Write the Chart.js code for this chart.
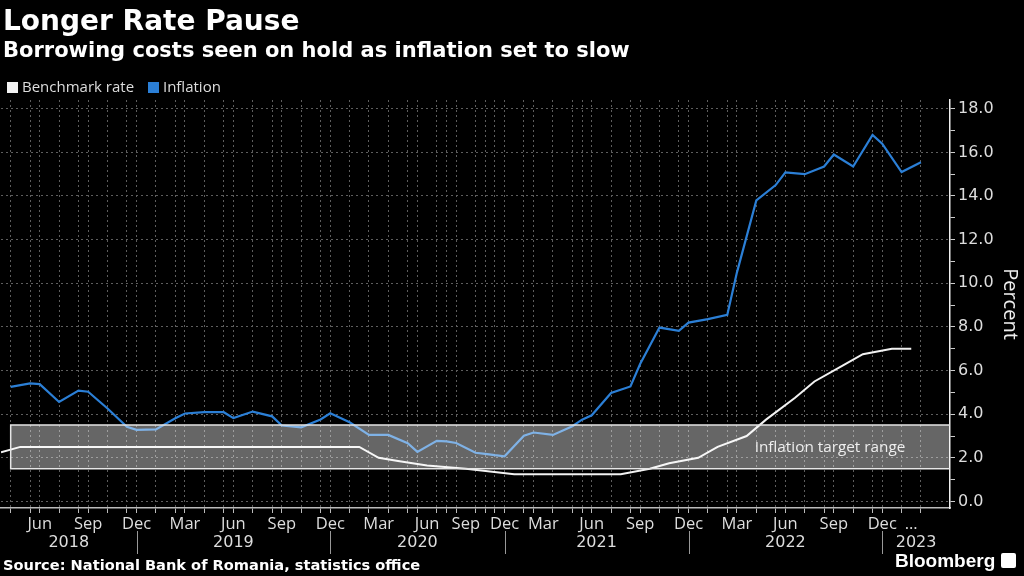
<!DOCTYPE html>
<html>
<head>
<meta charset="utf-8">
<script src="https://cdn.jsdelivr.net/npm/chart.js@4.4.1/dist/chart.umd.min.js"></script>
<style>
  html, body { margin: 0; padding: 0; background: #000; }
  body { width: 1024px; height: 576px; position: relative; overflow: hidden; font-family: "DejaVu Sans", sans-serif; color: #fff; }
  #chartBox { position: absolute; left: 0; top: 0; width: 1024px; height: 576px; }
  #title { position: absolute; left: 3px; top: 5px; font-weight: bold; font-size: 28px; line-height: 32px; }
  #subtitle { position: absolute; left: 3px; top: 38px; font-weight: bold; font-size: 21px; line-height: 24px; }
  #legend { position: absolute; left: 7px; top: 77px; font-family: "Open Sans", sans-serif; font-size: 15px; line-height: 18px; color: #ddd; }
  #legend .key { display: inline-block; width: 11px; height: 11px; margin-right: 4px; vertical-align: -1px; }
  #legend .item { margin-right: 10px; }
  #source { position: absolute; left: 3px; top: 556px; font-weight: bold; font-size: 14.6px; line-height: 18px; }
  #brand { position: absolute; left: 895px; top: 550px; font-family: "Liberation Sans", sans-serif; font-weight: bold; font-size: 19px; line-height: 22px; }
  #brand .logo { display: inline-block; width: 15px; height: 15px; background: #fff; border-radius: 2px; margin-left: 6px; vertical-align: -1px; }
</style>
</head>
<body>
<div id="chartBox"><canvas id="rateChart" width="1024" height="576"></canvas></div>
<div id="title">Longer Rate Pause</div>
<div id="subtitle">Borrowing costs seen on hold as inflation set to slow</div>
<div id="legend">
  <span class="item"><span class="key" style="background:#f2f2f2"></span>Benchmark rate</span>
  <span class="item"><span class="key" style="background:#2b7fd6"></span>Inflation</span>
</div>
<div id="source">Source: National Bank of Romania, statistics office</div>
<div id="brand">Bloomberg<span class="logo"></span></div>

<script>
// Inflation, monthly (dated at month end)
const inflationMonths = [
  "2018-04", "2018-05", "2018-06", "2018-07", "2018-08", "2018-09", "2018-10", "2018-11", "2018-12",
  "2019-01", "2019-02", "2019-03", "2019-04", "2019-05", "2019-06", "2019-07", "2019-08", "2019-09", "2019-10", "2019-11", "2019-12",
  "2020-01", "2020-02", "2020-03", "2020-04", "2020-05", "2020-06", "2020-07", "2020-08", "2020-09", "2020-10", "2020-11", "2020-12",
  "2021-01", "2021-02", "2021-03", "2021-04", "2021-05", "2021-06", "2021-07", "2021-08", "2021-09", "2021-10", "2021-11", "2021-12",
  "2022-01", "2022-02", "2022-03", "2022-04", "2022-05", "2022-06", "2022-07", "2022-08", "2022-09", "2022-10", "2022-11", "2022-12",
  "2023-01", "2023-02"
];
const inflationValues = [
  5.25, 5.41, 5.38, 4.56, 5.08, 5.03, 4.26, 3.42, 3.28,
  3.30, 3.81, 4.03, 4.09, 4.09, 3.82, 4.12, 3.90, 3.48, 3.40, 3.76, 4.04,
  3.63, 3.05, 3.05, 2.67, 2.27, 2.78, 2.75, 2.68, 2.23, 2.18, 2.12, 2.07,
  3.01, 3.16, 3.05, 3.45, 3.75, 3.95, 4.97, 5.27, 6.30, 7.97, 7.82, 8.20,
  8.36, 8.55, 10.5, 13.8, 14.5, 15.08, 15.0, 15.35, 15.9, 15.35, 16.8, 16.4,
  15.1, 15.55
];

// Benchmark rate, at policy meeting dates
const rateDates = [
  "2018-04-04", "2018-05-07", "2018-07-04", "2018-08-06", "2018-10-03", "2018-11-06",
  "2019-01-09", "2019-02-07", "2019-04-04", "2019-05-15", "2019-07-04", "2019-08-06", "2019-10-09", "2019-11-07",
  "2020-01-08", "2020-02-07", "2020-03-20", "2020-04-03", "2020-06-02", "2020-09-08",
  "2021-01-15", "2021-03-10", "2021-04-07", "2021-07-07", "2021-08-05", "2021-10-05", "2021-11-09",
  "2022-01-11", "2022-02-09", "2022-04-06", "2022-05-11", "2022-07-06", "2022-08-05", "2022-10-05", "2022-11-08",
  "2023-01-11", "2023-02-08"
];
const rateValues = [
  2.25, 2.5, 2.5, 2.5, 2.5, 2.5,
  2.5, 2.5, 2.5, 2.5, 2.5, 2.5, 2.5, 2.5,
  2.5, 2.5, 2.0, 1.85, 1.65, 1.5,
  1.25, 1.25, 1.25, 1.25, 1.25, 1.5, 1.75,
  2.0, 2.5, 3.0, 3.75, 4.75, 5.5, 6.25, 6.75,
  7.0, 7.0
];

const targetRange = [1.5, 3.5];
const yTicks = [0, 1, 2, 3, 4, 5, 6, 7, 8, 9, 10, 11, 12, 13, 14, 15, 16, 17, 18];
const yearLabels = ["2018", "2019", "2020", "2021", "2022", "2023"];
const monthNames = ["Jan", "Feb", "Mar", "Apr", "May", "Jun", "Jul", "Aug", "Sep", "Oct", "Nov", "Dec"];

function monthEnd(ym) {
  const [y, m] = ym.split("-").map(Number);
  return new Date(Date.UTC(y, m, 0)).toISOString().slice(0, 10);
}

const inflationDates = inflationMonths.map(monthEnd);
// one evenly spaced slot per date of either series, like the original
const categories = [...new Set(inflationDates.concat(rateDates))].sort();
const slot = d => categories.indexOf(d);

const lastMonth = inflationMonths[inflationMonths.length - 1];
const tickText = categories.map((d, i) => {
  const ym = d.slice(0, 7);
  const first = i === 0 || categories[i - 1].slice(0, 7) !== ym;
  if (!first) return "";
  if (ym === lastMonth) return "\u2026";
  const m = Number(d.slice(5, 7));
  return m % 3 === 0 ? monthNames[m - 1] : "";
});
const isMonthEnd = categories.map(d => inflationDates.includes(d));
const yearEnds = [];
categories.forEach((d, i) => {
  if (i < categories.length - 1 && categories[i + 1].slice(0, 4) !== d.slice(0, 4)) yearEnds.push(i);
});

const extras = {
  id: "extras",
  afterDatasetsDraw(chart) {
    const { ctx, chartArea, scales: { x, y } } = chart;
    const left = x.getPixelForValue(slot(inflationDates[0]));
    const top = y.getPixelForValue(targetRange[1]);
    const bottom = y.getPixelForValue(targetRange[0]);
    ctx.save();
    ctx.fillStyle = "rgba(255,255,255,0.4)";
    ctx.fillRect(left, top, chartArea.right - left, bottom - top);
    ctx.strokeStyle = "#e6e6e6";
    ctx.lineWidth = 1.5;
    ctx.beginPath();
    ctx.moveTo(chartArea.right, top);
    ctx.lineTo(left, top);
    ctx.lineTo(left, bottom);
    ctx.lineTo(chartArea.right, bottom);
    ctx.stroke();
    ctx.fillStyle = "#eeeeee";
    ctx.font = '15.3px "Open Sans"';
    ctx.textAlign = "center";
    ctx.textBaseline = "middle";
    ctx.fillText("Inflation target range", chartArea.right - 120, (top + bottom) / 2 + 1);
    ctx.restore();
  },
  afterDraw(chart) {
    const { ctx, chartArea, scales: { x } } = chart;
    const edges = [chartArea.left].concat(yearEnds.map(i => x.getPixelForValue(i)), [chartArea.right]);
    ctx.save();
    ctx.fillStyle = "#dddddd";
    ctx.font = '16px "DejaVu Sans"';
    ctx.textAlign = "center";
    ctx.textBaseline = "middle";
    yearLabels.forEach((yr, k) => ctx.fillText(yr, (edges[k] + edges[k + 1]) / 2, 543));
    ctx.strokeStyle = "#999999";
    ctx.lineWidth = 1;
    yearEnds.forEach(i => {
      const px = Math.round(x.getPixelForValue(i)) + 0.5;
      ctx.beginPath();
      ctx.moveTo(px, 531);
      ctx.lineTo(px, 554);
      ctx.stroke();
    });
    ctx.restore();
  }
};

Chart.defaults.font.family = "Open Sans";

new Chart(document.getElementById("rateChart"), {
  type: "line",
  data: {
    datasets: [
      {
        label: "Inflation",
        data: inflationDates.map((d, i) => ({ x: slot(d), y: inflationValues[i] })),
        borderColor: "#2b7fd6",
        borderWidth: 2.2,
        pointRadius: 0,
        tension: 0
      },
      {
        label: "Benchmark rate",
        data: rateDates.map((d, i) => ({ x: slot(d), y: rateValues[i] })),
        borderColor: "#f2f2f2",
        borderWidth: 2,
        pointRadius: 0,
        tension: 0
      }
    ]
  },
  options: {
    responsive: false,
    animation: false,
    layout: { padding: { top: 100, left: 0, right: 0, bottom: 0 } },
    plugins: { legend: { display: false }, tooltip: { enabled: false } },
    scales: {
      x: {
        type: "linear",
        min: 0,
        max: categories.length + 2,
        afterBuildTicks: s => { s.ticks = categories.map((d, i) => ({ value: i })); },
        afterFit: s => { s.height = 68; },
        ticks: {
          autoSkip: false,
          maxRotation: 0,
          minRotation: 0,
          padding: 1,
          color: "#dddddd",
          font: { family: "Open Sans", size: 16.5 },
          callback: v => tickText[v] || ""
        },
        grid: {
          color: c => (c.tick && isMonthEnd[c.tick.value] ? "#5e5e5e" : "rgba(0,0,0,0)"),
          tickColor: c => (c.tick && isMonthEnd[c.tick.value] ? "#bbbbbb" : "rgba(0,0,0,0)"),
          tickLength: 5,
          lineWidth: 1
        },
        border: { color: "#bbbbbb", width: 1.5, dash: [2, 3] }
      },
      y: {
        position: "right",
        min: -0.3,
        max: 18.4,
        afterBuildTicks: s => { s.ticks = yTicks.map(v => ({ value: v })); },
        afterFit: s => { s.width = 74; },
        ticks: {
          padding: 3,
          color: "#dddddd",
          font: { family: "DejaVu Sans", size: 16 },
          callback: v => (v % 2 === 0 ? v.toFixed(1) : "")
        },
        grid: {
          color: c => (c.tick && c.tick.value % 2 === 0 ? "#5e5e5e" : "rgba(0,0,0,0)"),
          tickColor: "#cccccc",
          tickLength: 5,
          lineWidth: 1
        },
        border: { color: "#eeeeee", width: 1.5, dash: [2, 3] },
        title: {
          display: true,
          text: "Percent",
          color: "#eeeeee",
          font: { family: "Open Sans", size: 20 },
          padding: { top: 2, bottom: 0 }
        }
      }
    }
  },
  plugins: [extras]
});
</script>
</body>
</html>
